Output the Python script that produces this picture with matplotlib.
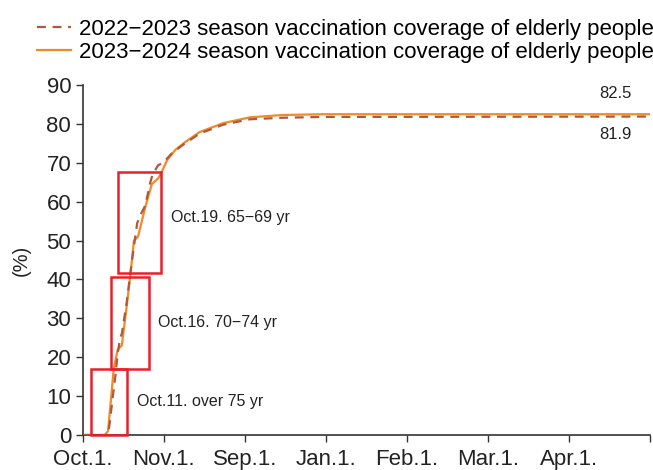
import matplotlib
matplotlib.use("Agg")
import matplotlib.pyplot as plt
from matplotlib.patches import Rectangle

plt.rcParams['font.family'] = ['Liberation Sans', 'DejaVu Sans']

# x positions are months since Oct.1. (one tick per month)
tick_labels = ["Oct.1.", "Nov.1.", "Sep.1.", "Jan.1.", "Feb.1.", "Mar.1.", "Apr.1.", ""]

# 2022-2023 season
x_prev = [0.0, 0.31, 0.33, 0.37, 0.40, 0.43, 0.46, 0.48, 0.54, 0.60, 0.67, 0.72, 0.77,
          0.83, 0.86, 0.93, 0.99, 1.10, 1.26, 1.44, 1.73, 2.06, 2.47, 2.96, 7.0]
y_prev = [0.0, 0.0, 3.0, 10.0, 15.0, 21.0, 25.0, 26.0, 34.0, 44.0, 54.5, 57.0, 59.0,
          64.8, 67.0, 69.4, 70.0, 72.5, 75.0, 77.5, 79.8, 81.2, 81.6, 81.8, 81.9]

# 2023-2024 season
x_curr = [0.0, 0.27, 0.31, 0.35, 0.38, 0.43, 0.48, 0.54, 0.59, 0.63, 0.68, 0.77, 0.85,
          0.93, 0.98, 1.04, 1.14, 1.26, 1.44, 1.73, 2.06, 2.47, 2.96, 7.0]
y_curr = [0.0, 0.0, 1.0, 10.0, 17.0, 22.0, 23.0, 33.0, 42.0, 50.0, 51.0, 58.6, 64.5,
          66.0, 68.0, 70.7, 73.3, 75.3, 77.9, 80.2, 81.7, 82.3, 82.5, 82.5]

# highlighted phases: (x0, x1, y0, y1, label)
phases = [
    (0.10, 0.54, 0.0, 17.0, "Oct.11. over 75 yr"),
    (0.35, 0.81, 17.0, 40.6, "Oct.16. 70\u221274 yr"),
    (0.43, 0.96, 41.6, 67.6, "Oct.19. 65\u221269 yr"),
]
label_pos = [(0.67, 8.5), (0.93, 29.0), (1.09, 56.0)]

fig = plt.figure(figsize=(6.53, 4.70), dpi=100)
ax = fig.add_axes([0.127, 0.0745, 0.868, 0.7445])

ax.plot(x_prev, y_prev, color="#b0583a", lw=1.6, ls=(0, (4, 3)),
        label="2022\u22122023 season vaccination coverage of elderly people", zorder=3)
ax.plot(x_curr, y_curr, color="#f28a2a", lw=1.6,
        label="2023\u22122024 season vaccination coverage of elderly people", zorder=2)

for (x0, x1, y0, y1, txt), (tx, ty) in zip(phases, label_pos):
    ax.add_patch(Rectangle((x0, y0), x1 - x0, y1 - y0, fill=False,
                           edgecolor="#e8202a", lw=1.8, zorder=4, clip_on=False))
    ax.text(tx, ty, txt, fontsize=11.5, va="center", ha="left", color="#222222")

ax.text(6.58, 87.9, "%.1f" % y_curr[-1], fontsize=12, ha="center", va="center", color="#222222")
ax.text(6.58, 77.4, "%.1f" % y_prev[-1], fontsize=12, ha="center", va="center", color="#222222")

ax.set_xlim(0, 7)
ax.set_ylim(0, 90)
ax.set_xticks(range(8))
ax.set_xticklabels(tick_labels)
ax.set_yticks(range(0, 91, 10))
ax.tick_params(labelsize=16, length=5, width=1, color="#333333", labelcolor="#222222")
ax.tick_params(axis="x", pad=5)
ax.set_ylabel("(%)", fontsize=14.5, color="#222222", labelpad=11)
for s in ["top", "right"]:
    ax.spines[s].set_visible(False)
for s in ["left", "bottom"]:
    ax.spines[s].set_linewidth(1.2)
    ax.spines[s].set_color("#333333")

fig.legend(loc="upper left", bbox_to_anchor=(0.057, 0.96), frameon=False,
           fontsize=16, handlelength=1.5, handletextpad=0.36, labelspacing=0.08,
           borderpad=0.0, borderaxespad=0.0)

fig.savefig("out.png", dpi=100)
